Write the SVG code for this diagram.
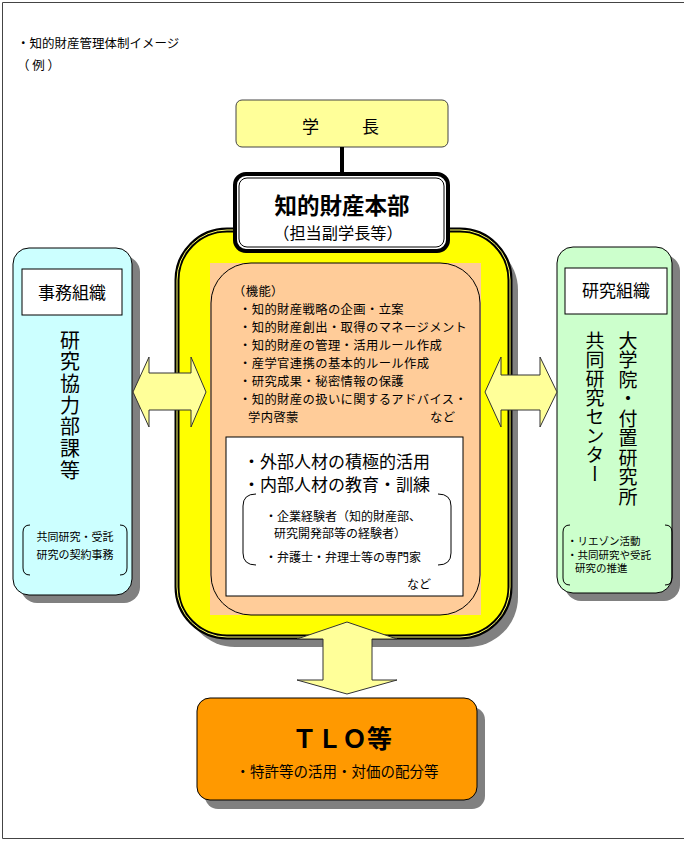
<svg xmlns="http://www.w3.org/2000/svg" width="684" height="841" viewBox="0 0 684 841">
<style>
text{font-family:"Noto Sans CJK JP","Noto Sans CJK SC",sans-serif;fill:#000}
.sh{fill:#808080}
.ln{fill:none;stroke:#000;stroke-width:1}
.arr{fill:#FFFF99;stroke:#333;stroke-width:1}
.vt{writing-mode:vertical-rl}
</style>
<rect x="0" y="0" width="684" height="841" fill="#fff"/>
<path d="M2.5,838.5 L2.5,2.5 L690,2.5 M2.5,838.5 L690,838.5" fill="none" stroke="#444" stroke-width="1"/>
<g id="title">
<text x="17" y="48" font-size="12.5">・知的財産管理体制イメージ</text>
<text x="17" y="70" font-size="12.5">（ 例 ）</text>
</g>
<g id="president">
<rect x="236" y="100" width="212" height="47" rx="6" fill="#FFFF99" stroke="#444" stroke-width="1"/>
<text x="302" y="133" font-size="17" letter-spacing="3">学　　長</text>
</g>
<g id="ip-hq-area">
<rect x="185" y="240" width="333" height="407" rx="50" class="sh"/>
<rect x="177" y="230" width="333" height="407" rx="50" fill="#FFFF00" stroke="#000" stroke-width="5"/>
<rect x="177" y="230" width="333" height="407" rx="50" fill="none" stroke="#FFFF66" stroke-width="1"/>
<rect x="210" y="263" width="271" height="352" fill="#FFCC99"/>
<rect x="211" y="263" width="269" height="352" rx="40" class="ln"/>
<text font-size="12.3" letter-spacing="0.4">
<tspan x="233" y="296">（機能）</tspan>
<tspan x="239" y="314">・知的財産戦略の企画・立案</tspan>
<tspan x="239" y="332">・知的財産創出・取得のマネージメント</tspan>
<tspan x="239" y="350">・知的財産の管理・活用ルール作成</tspan>
<tspan x="239" y="368">・産学官連携の基本的ルール作成</tspan>
<tspan x="239" y="386">・研究成果・秘密情報の保護</tspan>
<tspan x="239" y="404">・知的財産の扱いに関するアドバイス・</tspan>
<tspan x="248" y="422">学内啓蒙</tspan>
</text>
<text x="430" y="422" font-size="12.3" letter-spacing="0.4">など</text>
<rect x="226" y="437" width="237" height="159" fill="#fff" stroke="#000" stroke-width="1"/>
<text x="243" y="468" font-size="17">・外部人材の積極的活用</text>
<text x="243" y="491" font-size="17">・内部人材の教育・訓練</text>
<path d="M256,494 Q243,494 243,506 L243,553 Q243,565 256,565 M438,494 Q451,494 451,506 L451,553 Q451,565 438,565" class="ln"/>
<text x="265" y="521" font-size="12">・企業経験者（知的財産部、</text>
<text x="274" y="538" font-size="12">研究開発部等の経験者）</text>
<text x="265" y="562" font-size="12">・弁護士・弁理士等の専門家</text>
<text x="407" y="589" font-size="12">など</text>
</g>
<g id="ip-hq">
<rect x="235" y="174" width="213" height="77" rx="11" fill="#fff" stroke="#000" stroke-width="4"/>
<rect x="239" y="178" width="205" height="69" rx="8" class="ln"/>
<text x="342" y="214" font-size="22.5" font-weight="bold" text-anchor="middle">知的財産本部</text>
<text x="338" y="239" font-size="16.2" text-anchor="middle">（担当副学長等）</text>
</g>
<g id="admin-org">
<rect x="21" y="256" width="119" height="347" rx="16" class="sh"/>
<rect x="13" y="248" width="119" height="347" rx="16" fill="#CCFFFF" stroke="#000" stroke-width="1"/>
<rect x="22" y="269" width="100" height="46" fill="#fff" stroke="#000" stroke-width="1"/>
<text x="72" y="299" font-size="17" text-anchor="middle">事務組織</text>
<text x="70" y="330" font-size="20" letter-spacing="1.7" class="vt">研究協力部課等</text>
<path d="M30,525 Q23,525 23,532 L23,568 Q23,575 30,575 M120,525 Q127,525 127,532 L127,568 Q127,575 120,575" class="ln"/>
<text x="75" y="541" font-size="11" text-anchor="middle">共同研究・受託</text>
<text x="75" y="559" font-size="11" text-anchor="middle">研究の契約事務</text>
</g>
<g id="research-org">
<rect x="565" y="255" width="115" height="346" rx="16" class="sh"/>
<rect x="557" y="247" width="115" height="346" rx="16" fill="#CCFFCC" stroke="#000" stroke-width="1"/>
<rect x="565" y="268" width="102" height="46" fill="#fff" stroke="#000" stroke-width="1"/>
<text x="616" y="297" font-size="17" text-anchor="middle">研究組織</text>
<text x="628" y="331" font-size="19" letter-spacing="0.5" class="vt">大学院・付置研究所</text>
<text x="595" y="331" font-size="19" class="vt">共同研究センター</text>
<path d="M570,525 Q563,525 563,532 L563,578 Q563,585 570,585 M665,525 Q672,525 672,532 L672,578 Q672,585 665,585" class="ln"/>
<text x="567" y="545" font-size="10.5">・リエゾン活動</text>
<text x="567" y="558.5" font-size="10.5">・共同研究や受託</text>
<text x="575" y="572" font-size="10.5">研究の推進</text>
</g>
<g id="tlo">
<rect x="205" y="707" width="280" height="102" rx="13" class="sh"/>
<rect x="197" y="698" width="280" height="102" rx="13" fill="#FF9900" stroke="#000" stroke-width="1"/>
<text x="342" y="748" font-size="25" font-weight="bold" text-anchor="middle">ＴＬＯ等</text>
<text x="337" y="777" font-size="14.5" text-anchor="middle">・特許等の活用・対価の配分等</text>
</g>
<g id="connectors">
<rect x="340" y="147" width="4" height="28" fill="#000"/>
<polygon class="arr" points="133,392 149,357 149,373 191,373 191,357 206,392 191,427 191,410 149,410 149,427"/>
<polygon class="arr" points="485,392 501,357 501,375 540,375 540,357 557,392 540,427 540,410 501,410 501,427"/>
<polygon class="arr" points="347,622 397,639 372,639 372,680 397,680 347,694 297,680 323,680 323,639 297,639"/>
</g>
</svg>
